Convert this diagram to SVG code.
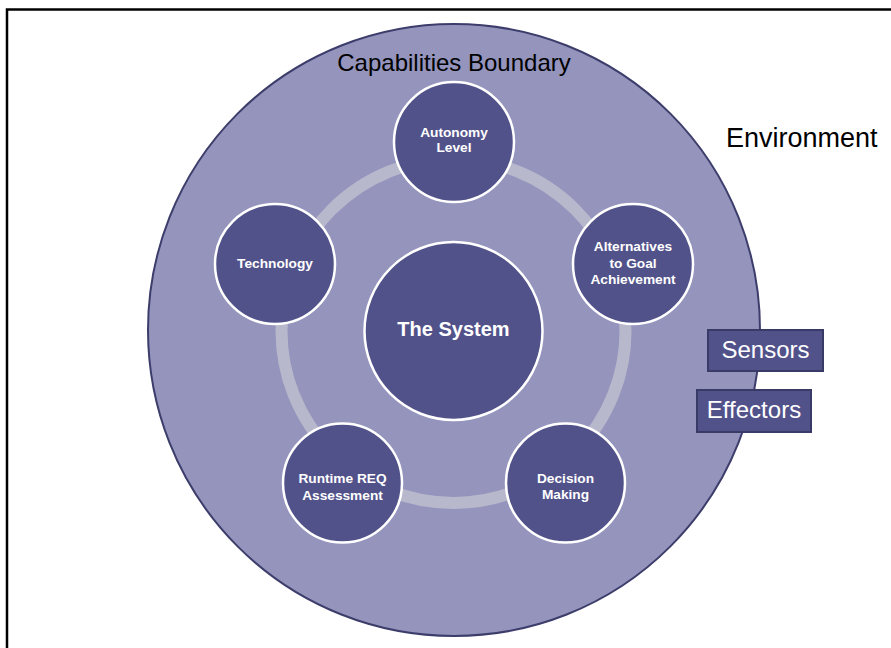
<svg xmlns="http://www.w3.org/2000/svg" width="891" height="648" viewBox="0 0 891 648">
<style>
.node{fill:#52528a;stroke:#ffffff;stroke-width:2.5}
.nt{font-family:"Liberation Sans",Arial,sans-serif;font-weight:bold;font-size:13.7px;fill:#ffffff;text-anchor:middle}
.big{font-size:20px}
.box{fill:#52528a;stroke:#3a3a66;stroke-width:2}
.bt{font-family:"Liberation Sans",Arial,sans-serif;font-size:24px;fill:#ffffff}
.lbl{font-family:"Liberation Sans",Arial,sans-serif;fill:#000000}
</style>
<rect x="0" y="0" width="891" height="648" fill="#ffffff"/>
<rect x="7" y="9.5" width="1000" height="1000" fill="none" stroke="#000000" stroke-width="2.5"/>
<g id="boundary">
<circle cx="454" cy="330" r="306" fill="#9494bd" stroke="#3d3d6b" stroke-width="2"/>
<text class="lbl" x="454" y="71" font-size="24" text-anchor="middle">Capabilities Boundary</text>
</g>
<g id="connectors">
<circle cx="453.5" cy="331" r="172" fill="none" stroke="#b8b8cc" stroke-width="12"/>
</g>
<g id="system">
<circle class="node" cx="453.5" cy="331" r="89"/>
<text class="nt big" x="453.5" y="336">The System</text>
</g>
<g id="autonomy">
<circle class="node" cx="454" cy="142" r="60"/>
<text class="nt" x="454" y="136.5">Autonomy</text>
<text class="nt" x="454" y="152">Level</text>
</g>
<g id="alternatives">
<circle class="node" cx="633" cy="264" r="60"/>
<text class="nt" x="633" y="251">Alternatives</text>
<text class="nt" x="633" y="267.5">to Goal</text>
<text class="nt" x="633" y="284">Achievement</text>
</g>
<g id="decision">
<circle class="node" cx="565.5" cy="483" r="59.5"/>
<text class="nt" x="565.5" y="482.5">Decision</text>
<text class="nt" x="565.5" y="499">Making</text>
</g>
<g id="runtime">
<circle class="node" cx="342.5" cy="483" r="59.5"/>
<text class="nt" x="342.5" y="483">Runtime REQ</text>
<text class="nt" x="342.5" y="499.5">Assessment</text>
</g>
<g id="technology">
<circle class="node" cx="275" cy="264" r="60"/>
<text class="nt" x="275" y="267.5">Technology</text>
</g>
<g id="sensors">
<rect class="box" x="708" y="330" width="115" height="41"/>
<text class="bt" x="765.5" y="358" text-anchor="middle">Sensors</text>
</g>
<g id="effectors">
<rect class="box" x="697" y="390" width="114" height="42"/>
<text class="bt" x="754" y="418" text-anchor="middle">Effectors</text>
</g>
<g id="environment">
<text class="lbl" x="726" y="147" font-size="27">Environment</text>
</g>
</svg>
